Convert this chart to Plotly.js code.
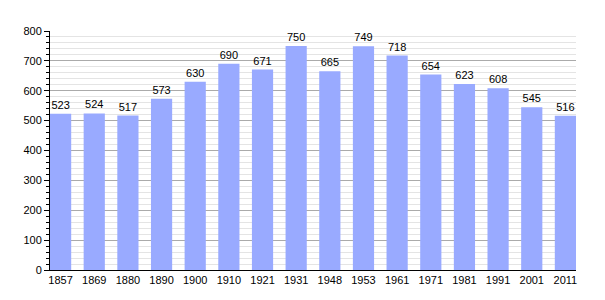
<!DOCTYPE html>
<html><head><meta charset="utf-8">
<script src="https://cdn.plot.ly/plotly-3.0.1.min.js"></script>
<style>html,body{margin:0;padding:0;background:#fff}#c{width:605px;height:300px}</style>
</head><body><div id="c"></div>
<script>
const years = ['1857','1869','1880','1890','1900','1910','1921','1931','1948','1953','1961','1971','1981','1991','2001','2011'];
const population = [523,524,517,573,630,690,671,750,665,749,718,654,623,608,545,516];
const w = 0.63;
Plotly.newPlot('c', [{
  type:'bar', x: years, y: population, width: w,
  marker:{color:'#99aaff'},
  text: population.map(String), textposition:'outside', cliponaxis:false,
  textfont:{family:'Liberation Sans, Arial, sans-serif', size:11, color:'#000'}
}], {
  width:605, height:300,
  margin:{l:50, r:29, t:31, b:30},
  paper_bgcolor:'#fff', plot_bgcolor:'#fff',
  showlegend:false,
  font:{family:'Liberation Sans, Arial, sans-serif', size:11, color:'#000'},
  xaxis:{type:'category', range:[-w/2, 15+w/2], showline:true, linecolor:'#000', linewidth:1,
    ticks:'', showgrid:false, tickfont:{size:11}},
  yaxis:{range:[0,800], dtick:100, showline:true, linecolor:'#000', linewidth:1,
    ticks:'outside', ticklen:5, tickcolor:'#000', gridcolor:'#aaaaaa', gridwidth:1,
    zeroline:false, tickfont:{size:11},
    minor:{dtick:20, ticks:'outside', ticklen:3, tickcolor:'#000', showgrid:true, gridcolor:'#e4e4e4', gridwidth:1}}
}, {staticPlot:true});
</script></body></html>
